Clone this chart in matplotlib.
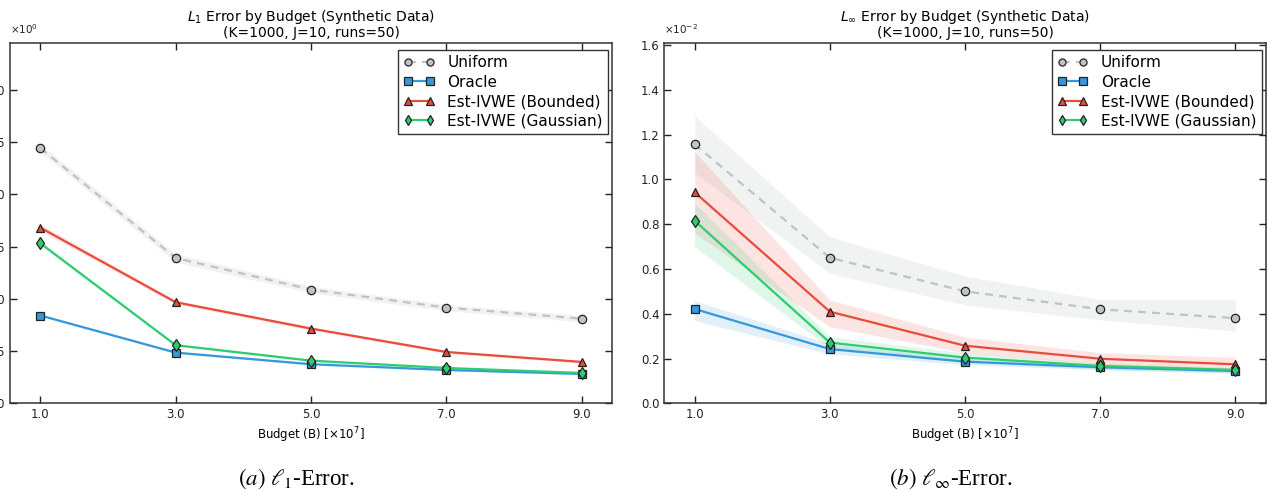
import matplotlib
matplotlib.use("Agg")
import matplotlib.pyplot as plt
from matplotlib.ticker import FormatStrFormatter

plt.rcParams['font.family'] = ['DejaVu Sans']

# Budgets (x 1e7)
budgets = [1.0, 3.0, 5.0, 7.0, 9.0]
methods = ["Uniform", "Oracle", "Est-IVWE (Bounded)", "Est-IVWE (Gaussian)"]

# L1 error (x 1e0): means and band edges
l1_uniform = [2.44, 1.39, 1.088, 0.916, 0.81]
l1_uniform_lo = [2.40, 1.35, 1.055, 0.885, 0.78]
l1_uniform_hi = [2.48, 1.43, 1.12, 0.945, 0.84]
l1_oracle = [0.84, 0.485, 0.374, 0.319, 0.281]
l1_oracle_lo = [0.83, 0.475, 0.365, 0.311, 0.273]
l1_oracle_hi = [0.85, 0.495, 0.383, 0.327, 0.289]
l1_bounded = [1.68, 0.967, 0.715, 0.491, 0.396]
l1_bounded_lo = [1.65, 0.95, 0.70, 0.478, 0.385]
l1_bounded_hi = [1.71, 0.985, 0.73, 0.504, 0.407]
l1_gaussian = [1.53, 0.556, 0.408, 0.338, 0.29]
l1_gaussian_lo = [1.51, 0.545, 0.398, 0.33, 0.283]
l1_gaussian_hi = [1.55, 0.567, 0.418, 0.346, 0.297]

# L-infinity error (x 1e-2): means and band edges
linf_uniform = [1.156, 0.65, 0.50, 0.42, 0.38]
linf_uniform_lo = [1.03, 0.58, 0.439, 0.372, 0.323]
linf_uniform_hi = [1.283, 0.744, 0.568, 0.464, 0.464]
linf_oracle = [0.421, 0.242, 0.186, 0.161, 0.144]
linf_oracle_lo = [0.369, 0.22, 0.172, 0.15, 0.133]
linf_oracle_hi = [0.458, 0.265, 0.20, 0.172, 0.155]
linf_bounded = [0.942, 0.409, 0.257, 0.199, 0.174]
linf_bounded_lo = [0.76, 0.342, 0.225, 0.175, 0.148]
linf_bounded_hi = [1.123, 0.461, 0.295, 0.226, 0.205]
linf_gaussian = [0.815, 0.271, 0.204, 0.167, 0.149]
linf_gaussian_lo = [0.699, 0.245, 0.183, 0.152, 0.138]
linf_gaussian_hi = [0.894, 0.297, 0.225, 0.18, 0.16]

colors = ["#bdc3c7", "#3498db", "#e74c3c", "#2ecc71"]
markers = ["o", "s", "^", "d"]
band_alpha = [0.2, 0.15, 0.15, 0.15]

panels = [
    dict(title="$L_1$ Error by Budget (Synthetic Data)\n(K=1000, J=10, runs=50)",
         offset=r"$\times10^{0}$", ylim=(0, 3.45), yticks=[0, 0.5, 1.0, 1.5, 2.0, 2.5, 3.0],
         series=[(l1_uniform, l1_uniform_lo, l1_uniform_hi),
                 (l1_oracle, l1_oracle_lo, l1_oracle_hi),
                 (l1_bounded, l1_bounded_lo, l1_bounded_hi),
                 (l1_gaussian, l1_gaussian_lo, l1_gaussian_hi)],
         caption=r"$\mathit{(a)}\ \ell_1$-Error.", rect=[10 / 1267, 1 - 403.3 / 491, 602 / 1267, 360.6 / 491],
         cap_x=296 / 1267),
    dict(title="$L_\\infty$ Error by Budget (Synthetic Data)\n(K=1000, J=10, runs=50)",
         offset=r"$\times10^{-2}$", ylim=(0, 1.61), yticks=[0, 0.2, 0.4, 0.6, 0.8, 1.0, 1.2, 1.4, 1.6],
         series=[(linf_uniform, linf_uniform_lo, linf_uniform_hi),
                 (linf_oracle, linf_oracle_lo, linf_oracle_hi),
                 (linf_bounded, linf_bounded_lo, linf_bounded_hi),
                 (linf_gaussian, linf_gaussian_lo, linf_gaussian_hi)],
         caption=r"$\mathit{(b)}\ \ell_\infty$-Error.", rect=[664.3 / 1267, 1 - 403.3 / 491, 601.4 / 1267, 360.6 / 491],
         cap_x=951 / 1267),
]

fig = plt.figure(figsize=(12.67, 4.91), dpi=100)

for p in panels:
    ax = fig.add_axes(p["rect"])
    for i, (mean, lo, hi) in enumerate(p["series"]):
        ax.fill_between(budgets, lo, hi, color=colors[i], alpha=band_alpha[i], lw=0)
        kw = dict(color=colors[i], marker=markers[i], markersize=6 if markers[i] != "d" else 6.5,
                  markerfacecolor=colors[i], markeredgecolor="#222222", markeredgewidth=0.9,
                  lw=1.6, label=methods[i], zorder=3)
        if i == 0:
            ax.plot(budgets, mean, linestyle=(0, (3.5, 2.8)), **kw)
        else:
            ax.plot(budgets, mean, **kw)
    ax.set_xlim(0.55, 9.45)
    ax.set_ylim(*p["ylim"])
    ax.set_xticks(budgets)
    ax.set_yticks(p["yticks"])
    ax.xaxis.set_major_formatter(FormatStrFormatter("%.1f"))
    ax.yaxis.set_major_formatter(FormatStrFormatter("%.1f"))
    ax.tick_params(direction="in", top=True, right=True, length=5, width=1,
                   labelsize=8.5, colors="#222222", labelcolor="#222222")
    for s in ax.spines.values():
        s.set_color("#333333")
        s.set_linewidth(1.1)
    ax.set_title(p["title"], fontsize=10, pad=4, linespacing=1.05)
    ax.set_xlabel("Budget (B) [$\\times10^7$]", fontsize=8.5, labelpad=3)
    ax.annotate(p["offset"], xy=(0, 1), xycoords="axes fraction", xytext=(0, 5),
                textcoords="offset points", fontsize=7.5, ha="left", va="bottom", color="#222222")
    leg = ax.legend(loc="upper right", bbox_to_anchor=(1 - 4 / 602, 1 - 7 / 360.6),
                    numpoints=2, fancybox=False, fontsize=11, markerscale=0.85,
                    handlelength=2.0, handletextpad=0.84, borderpad=0.35, labelspacing=0.3,
                    borderaxespad=0, framealpha=1)
    leg.get_frame().set_edgecolor("#333333")
    leg.get_frame().set_linewidth(1.0)
    fig.text(p["cap_x"], 1 - 485 / 491, p["caption"], ha="center", va="baseline",
             fontsize=16.5, fontfamily="Liberation Serif", math_fontfamily="stix")

fig.savefig("out.png", dpi=100)
